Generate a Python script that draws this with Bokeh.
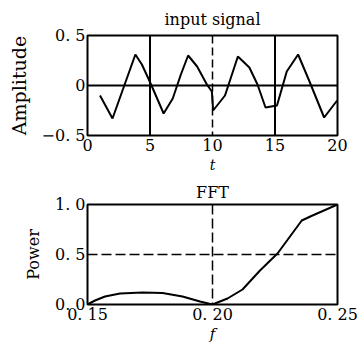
from bokeh.plotting import figure
from bokeh.layouts import column
from bokeh.models import Range1d, FixedTicker, Span, CustomJSTickFormatter
from bokeh.embed import file_html
from bokeh.resources import INLINE

# ---- data ----
sig_t = [1.0, 2.0, 3.83, 4.35, 4.87, 5.26, 6.09, 6.82, 7.47, 8.05, 8.77, 9.55, 9.95, 10.05, 11.0, 12.03, 12.95, 13.6, 14.24, 15.16, 15.94, 16.85, 17.76, 18.93, 19.97]
sig_y = [-0.10, -0.33, 0.31, 0.21, 0.07, -0.04, -0.28, -0.13, 0.11, 0.30, 0.19, 0.01, -0.06, -0.25, -0.10, 0.29, 0.18, 0.01, -0.22, -0.20, 0.14, 0.31, 0.04, -0.32, -0.15]
sig_xticks = [0, 5, 10, 15, 20]
sig_xlabels = ["0", "5", "10", "15", "20"]
sig_yticks = [-0.5, 0, 0.5]
sig_ylabels = ["\u22120. 5", "0", "0. 5"]
sig_solid_vlines = [5, 15]
sig_dashed_vlines = [10]
sig_hlines = [0]

fft_f = [0.150, 0.153, 0.157, 0.163, 0.172, 0.180, 0.188, 0.195, 0.200, 0.206, 0.212, 0.219, 0.226, 0.2357, 0.240, 0.250]
fft_p = [0.00, 0.04, 0.08, 0.11, 0.12, 0.115, 0.08, 0.03, 0.00, 0.06, 0.15, 0.34, 0.51, 0.84, 0.89, 1.00]
fft_xticks = [0.15, 0.20, 0.25]
fft_xlabels = ["0. 15", "0. 20", "0. 25"]
fft_yticks = [0.0, 0.5, 1.0]
fft_ylabels = ["0. 0", "0. 5", "1. 0"]
fft_dashed_vlines = [0.20]
fft_dashed_hlines = [0.5]

FONT = "DejaVu Serif"
TICK_JS = """
let best = 0;
for (let i = 0; i < tv.length; i++) {
  if (Math.abs(tv[i] - tick) < Math.abs(tv[best] - tick)) best = i;
}
return tl[best];
"""


def style(p, xticks, xlabels, yticks, ylabels, title, title_size, title_standoff,
          xlab, xlab_size, xlab_standoff, xtick_standoff, ylab, ylab_size, ylab_standoff):
    p.outline_line_color = "black"
    p.outline_line_width = 2
    p.outline_line_alpha = 1
    p.grid.visible = False
    for ax in (p.xaxis[0], p.yaxis[0]):
        ax.axis_line_color = None
        ax.major_tick_line_color = None
        ax.minor_tick_line_color = None
        ax.major_tick_out = 0
        ax.major_tick_in = 0
        ax.major_label_text_font = FONT
        ax.major_label_text_font_size = "16px"
        ax.major_label_text_color = "black"
        ax.axis_label_text_font = FONT
        ax.axis_label_text_color = "black"
    p.xaxis.ticker = FixedTicker(ticks=xticks)
    p.xaxis.formatter = CustomJSTickFormatter(args=dict(tv=xticks, tl=xlabels), code=TICK_JS)
    p.yaxis.ticker = FixedTicker(ticks=yticks)
    p.yaxis.formatter = CustomJSTickFormatter(args=dict(tv=yticks, tl=ylabels), code=TICK_JS)
    p.xaxis.major_label_standoff = xtick_standoff
    p.yaxis.major_label_standoff = 2
    p.xaxis.axis_label = xlab
    p.xaxis.axis_label_text_font_style = "italic"
    p.xaxis.axis_label_text_font_size = xlab_size
    p.xaxis.axis_label_standoff = xlab_standoff
    p.yaxis.axis_label = ylab
    p.yaxis.axis_label_text_font_style = "normal"
    p.yaxis.axis_label_text_font_size = ylab_size
    p.yaxis.axis_label_standoff = ylab_standoff
    p.title.text = title
    p.title.text_font = FONT
    p.title.text_font_size = title_size
    p.title.text_font_style = "normal"
    p.title.text_color = "black"
    p.title.align = "center"
    p.title.standoff = title_standoff


# ---- top: input signal ----
p1 = figure(width=359, height=177, x_range=Range1d(0, 20), y_range=Range1d(-0.5, 0.5),
            output_backend="svg", toolbar_location=None,
            min_border_left=81, min_border_right=22, min_border_top=35, min_border_bottom=42)
style(p1, sig_xticks, sig_xlabels, sig_yticks, sig_ylabels, "input signal", "16px", 14,
      "t", "14px", 3, 3, "Amplitude", "19px", 9)
for v in sig_solid_vlines:
    p1.add_layout(Span(location=v, dimension="height", line_color="black", line_width=2))
for v in sig_dashed_vlines:
    p1.add_layout(Span(location=v, dimension="height", line_color="black", line_width=1.5, line_dash="8 4"))
for h in sig_hlines:
    p1.add_layout(Span(location=h, dimension="width", line_color="black", line_width=2))
p1.line(sig_t, sig_y, line_color="black", line_width=2)

# ---- bottom: FFT ----
p2 = figure(width=359, height=168, x_range=Range1d(0.15, 0.25), y_range=Range1d(0, 1),
            output_backend="svg", toolbar_location=None,
            min_border_left=87, min_border_right=16, min_border_top=27, min_border_bottom=40)
style(p2, fft_xticks, fft_xlabels, fft_yticks, fft_ylabels, "FFT", "16px", 6,
      "f", "15px", -2, 0, "Power", "16px", 9)
for v in fft_dashed_vlines:
    p2.add_layout(Span(location=v, dimension="height", line_color="black", line_width=1.5, line_dash="10 4"))
for h in fft_dashed_hlines:
    p2.add_layout(Span(location=h, dimension="width", line_color="black", line_width=1.5, line_dash="10 4"))
p2.line(fft_f, fft_p, line_color="black", line_width=2)

layout = column(p1, p2, spacing=0)
open("out.html", "w").write(file_html(layout, INLINE))
